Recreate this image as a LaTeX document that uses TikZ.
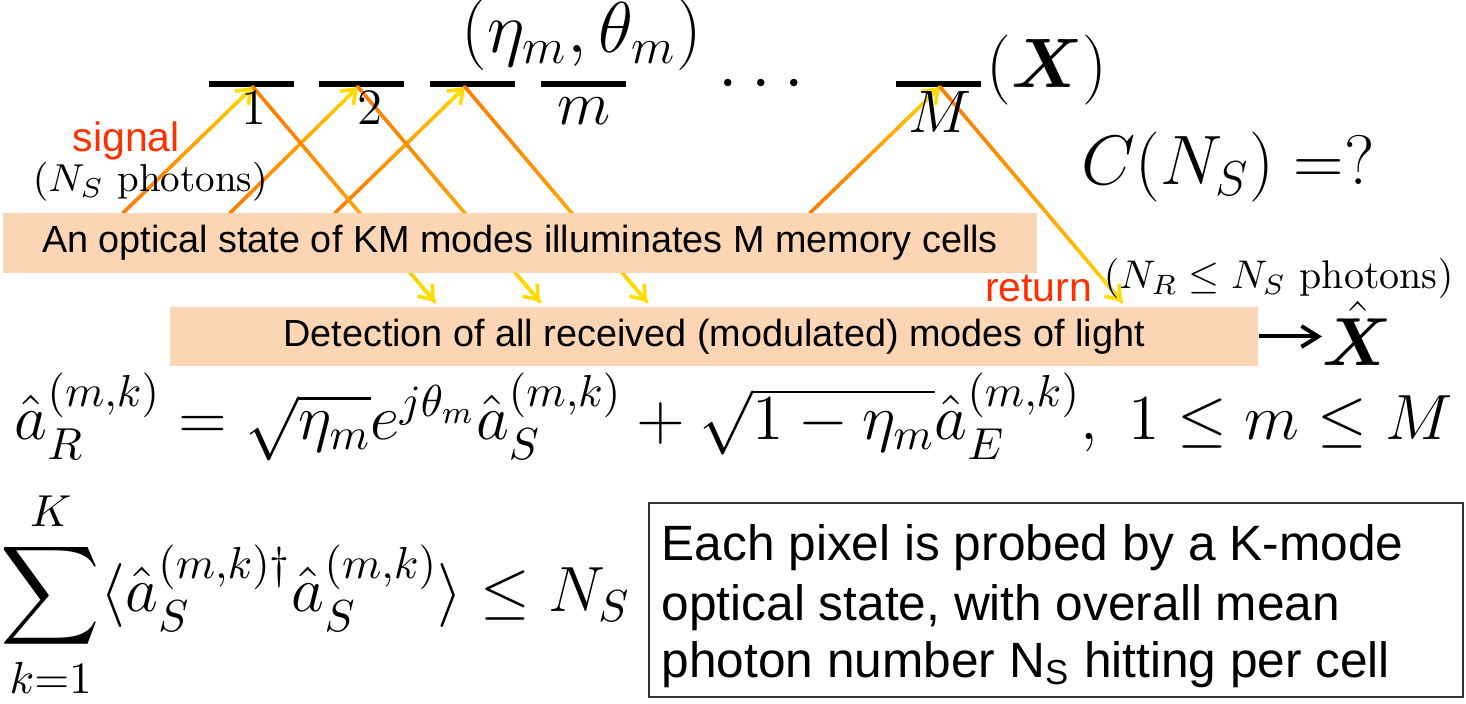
\documentclass[tikz,border=0pt]{standalone}
\usepackage{fix-cm}
\usepackage{amsmath}
\usepackage{fontspec}
\newfontfamily\arialfont{Liberation Sans}
\usetikzlibrary{calc,arrows.meta,positioning}
\definecolor{peach}{RGB}{252,213,181}
\definecolor{signalred}{RGB}{255,48,0}
\definecolor{beamorange}{RGB}{255,124,0}
\definecolor{beamyellow}{RGB}{255,220,0}
\tikzset{
myCell/.style={
	rectangle,fill=black,inner sep=0pt,
	minimum width=21.25pt,minimum height=1.5pt
}
, myCellLabel/.style={anchor=base,inner sep=0pt}
, myBox/.style={
	rectangle,fill=peach,inner sep=0pt,
	font=\arialfont\fontsize{9.45}{11}\selectfont
}
% beams
, myBeam/.style={line width=0.9pt,line cap=round}
, myBeamTip/.style={-{Straight Barb[length=3.2pt,width=4.8pt]},line width=0.9pt,color=beamyellow}
, myRed/.style={text=signalred,inner sep=0pt,font=\arialfont\fontsize{10.25}{12}\selectfont}
, myMath/.style={inner sep=0pt}
, myNote/.style={
	draw=black!80,line width=0.4pt,inner sep=0pt,
	minimum width=203.5pt,minimum height=48.5pt
}
, myNoteLine/.style={anchor=base west,inner sep=0pt,font=\arialfont\fontsize{12.4}{14}\selectfont}
, myOut/.style={-{Straight Barb[length=4.2pt,width=5.2pt]},line width=1pt}
}
% beam with colour going from #3 to #4
\newcommand{\drawbeam}[4]{%
	\foreach \i in {1,...,16}{
		\pgfmathsetmacro\pa{(\i-1)/16}
		\pgfmathsetmacro\pb{\i/16}
		\pgfmathtruncatemacro\mix{100-100*((\i-0.5)/16)^1.6}
		\draw[myBeam,#3!\mix!#4] ($(#1)!\pa!(#2)$) -- ($(#1)!\pb!(#2)$);
	}
	\draw[myBeamTip] ($(#1)!0.9!(#2)$) -- (#2);
}

\begin{document}
\begin{tikzpicture}[x=0.25pt,y=-0.25pt]
	\useasboundingbox (0,0) rectangle (1466,704);
	% cells
	\node[myCell] (cell1) at (251.5,84) {};
	\node[myCell] (cell2) at (361.5,84) {};
	\node[myCell] (cell3) at (472.5,84) {};
	\node[myCell] (cellm) at (583,84) {};
	\node[myCell] (cellM) at (938,84) {};
	% hit points
	\coordinate (hit1) at (253,87);
	\coordinate (hit2) at (358,87);
	\coordinate (hit3) at (465,87);
	\coordinate (hitM) at (940,87);
	\coordinate (src1) at (123,213);
	\coordinate (src2) at (230,213);
	\coordinate (src3) at (335,213);
	\coordinate (srcM) at (810,213);
	\coordinate (ret1) at (435,302);
	\coordinate (ret2) at (540,302);
	\coordinate (ret3) at (647,302);
	\coordinate (retM) at (1122,302);
	% beams
	\drawbeam{src1}{hit1}{beamorange}{beamyellow};
	\drawbeam{src2}{hit2}{beamorange}{beamyellow};
	\drawbeam{src3}{hit3}{beamorange}{beamyellow};
	\drawbeam{srcM}{hitM}{beamorange}{beamyellow};
	\drawbeam{hit1}{ret1}{beamorange}{beamyellow};
	\drawbeam{hit2}{ret2}{beamorange}{beamyellow};
	\drawbeam{hit3}{ret3}{beamorange}{beamyellow};
	\drawbeam{hitM}{retM}{beamorange}{beamyellow};
	% boxes
	\node[myBox,minimum width=258.5pt,minimum height=15pt] (illum) at (520,243)
		{An optical state of KM modes illuminates M memory cells};
	\node[myBox,minimum width=272pt,minimum height=14.75pt] (detect) at (714,336.5)
		{Detection of all received (modulated) modes of light};
	% labels
	\node[myCellLabel,font=\fontsize{12.75}{14}\selectfont] (lab1) at (253.5,125) {$1$};
	\node[myCellLabel,font=\fontsize{12.75}{14}\selectfont] (lab2) at (370,125) {$2$};
	\node[myCellLabel,font=\fontsize{15.5}{18}\selectfont] (labm) at (584,125) {$m$};
	\node[myCellLabel,font=\fontsize{15}{18}\selectfont] (labM) at (940,133) {$M$};
	\node[myMath,anchor=base,font=\fontsize{18}{20}\selectfont] (params) at (582,53) {$(\eta_m,\theta_m)$};
	\node[myMath,anchor=base,font=\fontsize{17.5}{20}\selectfont] (dots) at (761,101) {${\cdot}\hskip3.4pt{\cdot}\hskip3.4pt{\cdot}$};
	\node[myMath,anchor=base,font=\fontsize{17.5}{20}\selectfont] (image) at (1047,88) {$(\boldsymbol{X})$};
	\node[myMath,anchor=base,font=\fontsize{17.5}{20}\selectfont] (capacity) at (1228,185) {$C(N_S) =?$};
	\node[myRed,anchor=base west] (signal) at (72,152) {signal};
	\node[myMath,anchor=base west,font=\fontsize{9.75}{12}\selectfont] (nsig) at (32,192) {$(N_S$ photons$)$};
	\node[myRed,anchor=base east] (return) at (1093,302) {return};
	\node[myMath,anchor=base west,font=\fontsize{10}{12}\selectfont] (nret) at (1103,289) {$(N_R\le N_S$ photons$)$};
	% estimate
	\node[myMath,anchor=base west,font=\fontsize{17}{20}\selectfont] (xhat) at (1322,366) {$\hat{\boldsymbol{X}}$};
	\draw[myOut] (detect.east) -- (detect.east -| xhat.west);
	% equations
	\node[myMath,anchor=base west,font=\fontsize{16}{20}\selectfont] (eqR) at (14,440)
		{$\hat{a}_R^{(m,k)} = \sqrt{\eta_m}e^{j\theta_m}\hat{a}_S^{(m,k)} + \sqrt{1-\eta_m}\hat{a}_E^{(m,k)},\ 1\le m\le M$};
	\node[myMath,anchor=base west,font=\fontsize{16}{20}\selectfont] (eqN) at (0,612)
		{$\displaystyle\sum_{k=1}^{K}\langle\hat{a}_S^{(m,k)\dagger}\hat{a}_S^{(m,k)}\rangle\le N_S$};
	% note
	\node[myNote] (note) at (1056,600) {};
	\node[myNoteLine] (note1) at (661,560) {Each pixel is probed by a K-mode};
	\node[myNoteLine] (note2) at (661,620) {optical state, with overall mean};
	\node[myNoteLine] (note3) at (661,677) {photon number N\textsubscript{S} hitting per cell};
\end{tikzpicture}
\end{document}
